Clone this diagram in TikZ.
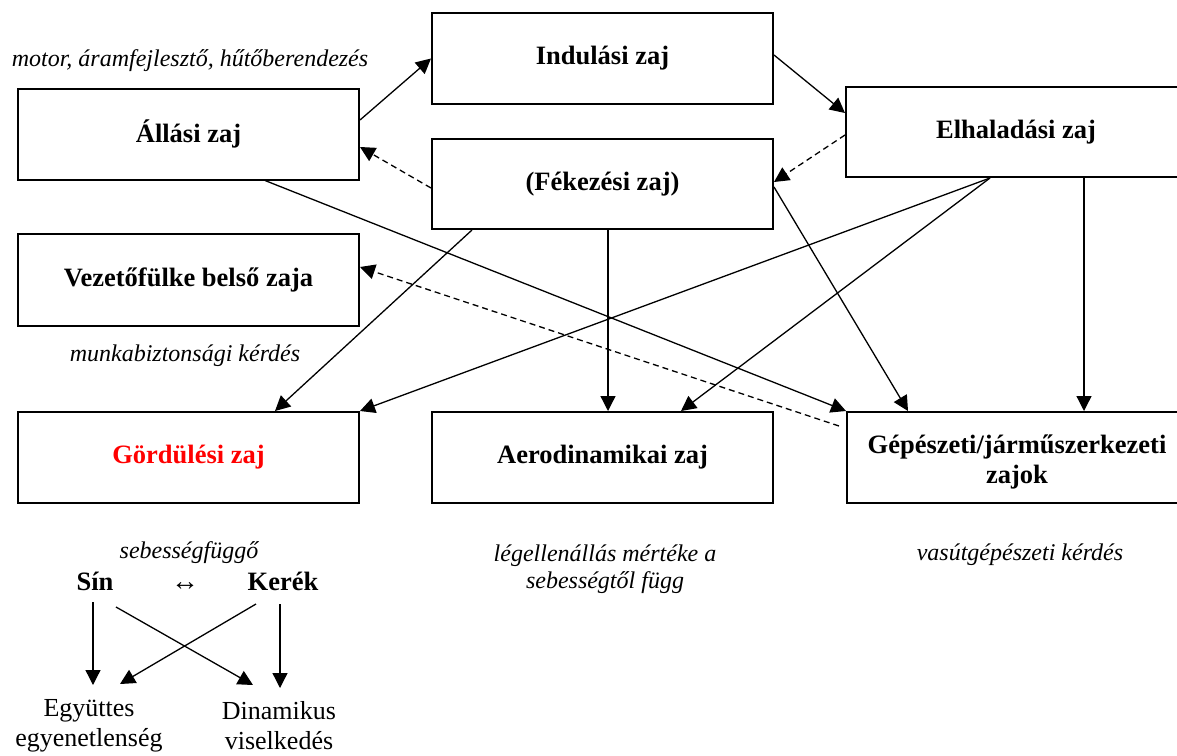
\documentclass[tikz,border=0pt]{standalone}
\usepackage{fontspec}
\setmainfont{Liberation Serif}
\usetikzlibrary{arrows.meta,calc}
\tikzset{
  nbox/.style={draw, line width=2pt, minimum width=341pt, minimum height=91pt, inner sep=0pt,
    align=center, font=\bfseries\fontsize{26.5}{30}\selectfont},
  lbl/.style={inner sep=0pt, align=center, font=\itshape\fontsize{24}{27}\selectfont},
  btxt/.style={inner sep=0pt, align=center, font=\bfseries\fontsize{26.5}{30}\selectfont},
  ptxt/.style={inner sep=0pt, align=center, font=\fontsize{26}{30}\selectfont},
  con/.style={line width=1.3pt, -{Triangle[length=15pt,width=15pt]}},
  dcon/.style={con, dash pattern=on 6pt off 4pt},
}
\begin{document}
\begin{tikzpicture}[x=1pt,y=-1pt]
\useasboundingbox (0,0) rectangle (1177,755);
\clip (0,0) rectangle (1177,755);
\fill[white] (0,0) rectangle (1177,755);

% boxes
\node[nbox] (allasi) at (188.5,134) {Állási zaj};
\node[nbox, minimum height=92pt] (vezeto) at (188.5,280) {Vezetőfülke belső zaja};
\node[nbox] (indulasi) at (602.5,58.5) {Indulási zaj};
\node[nbox, minimum height=90pt] (fekezesi) at (602.5,184) {(Fékezési zaj)};
\node[nbox, minimum width=340pt, minimum height=90pt] (elhaladasi) at (1016,132) {Elhaladási zaj};
\node[nbox, text=red] (gordulesi) at (188.5,457.5) {Gördülési zaj};
\node[nbox] (aero) at (602.5,457.5) {Aerodinamikai zaj};
\node[nbox, minimum width=340pt] (gepeszeti) at (1017,457.5) {};
\node[btxt] (gtext) at (1017,461.5) {Gépészeti/járműszerkezeti\\zajok};

% labels
\node[lbl, anchor=base] (l1) at (190,66) {motor, áramfejlesztő, hűtőberendezés};
\node[lbl, anchor=base] (l2) at (185,361) {munkabiztonsági kérdés};
\node[lbl, anchor=base] (l3) at (189,558) {sebességfüggő};
\node[lbl] (l4) at (605,569) {légellenállás mértéke a\\sebességtől függ};
\node[lbl, anchor=base] (l5) at (1020,560) {vasútgépészeti kérdés};

% connectors
\draw[con] ([yshift=14pt]allasi.east) -- (indulasi.west);
\draw[dcon] ([yshift=-4pt]fekezesi.west) -- ([yshift=-13pt]allasi.east);
\draw[con] ([yshift=3.5pt]indulasi.east) -- ([yshift=19pt]elhaladasi.west);
\draw[dcon] ([yshift=-3pt]elhaladasi.west) -- ([yshift=2pt]fekezesi.east);
\draw[con] ([xshift=76.5pt]allasi.south) -- (gepeszeti.north west);
\draw[con] ([xshift=-130.5pt]fekezesi.south) -- ([xshift=86.5pt]gordulesi.north);
\draw[con] ([xshift=5.5pt]fekezesi.south) -- ([xshift=5.5pt]aero.north);
\draw[con] ([yshift=-3pt]fekezesi.east) -- ([xshift=-109pt]gepeszeti.north);
\draw[con] ([xshift=-26pt]elhaladasi.south) -- (gordulesi.north east);
\draw[con] ([xshift=-26pt]elhaladasi.south) -- ([xshift=78.5pt]aero.north);
\draw[con] ([xshift=68pt]elhaladasi.south) -- ([xshift=67pt]gepeszeti.north);
\draw[dcon] ([xshift=-7pt,yshift=-15pt]gepeszeti.north west) -- ([yshift=13pt]vezeto.east);

% bottom left sub-diagram
\node[btxt, anchor=base] (sin) at (95,590) {Sín};
\node[inner sep=0pt, font=\fontsize{28}{30}\selectfont, anchor=base] (lr) at (185,590) {↔};
\node[btxt, anchor=base] (kerek) at (283,590) {Kerék};
\node[ptxt] (egy) at (89,726) {Együttes\\egyenetlenség};
\node[ptxt] (din) at (279,726) {Dinamikus\\viselkedés};

\draw[con] ([xshift=-2pt,yshift=-12pt]sin.base) -- ([xshift=4pt,yshift=41pt]egy.center);
\draw[con] ([xshift=21pt,yshift=-17pt]sin.base) -- ([xshift=-26pt,yshift=41pt]din.center);
\draw[con] ([xshift=-27pt,yshift=-14pt]kerek.base) -- ([xshift=31pt,yshift=42pt]egy.center);
\draw[con] ([xshift=-3pt,yshift=-14pt]kerek.base) -- ([xshift=1pt,yshift=38pt]din.center);
\end{tikzpicture}
\end{document}
